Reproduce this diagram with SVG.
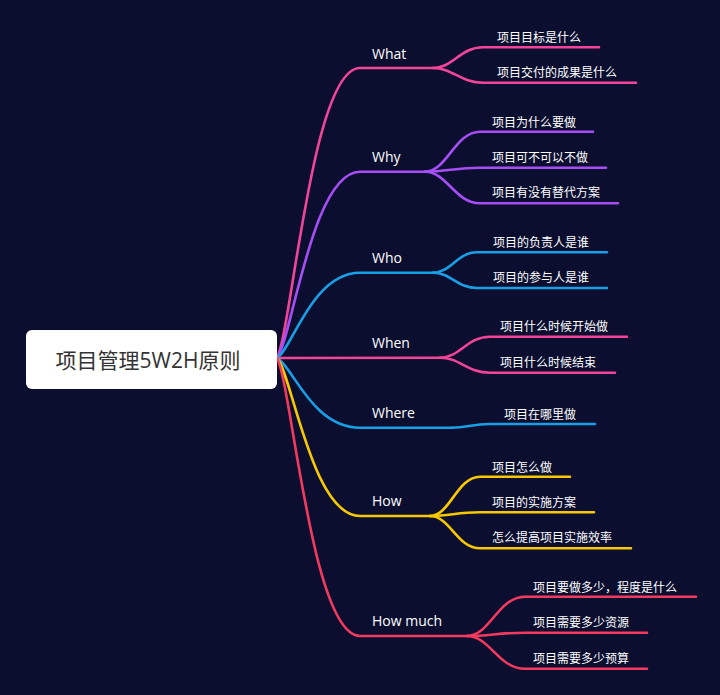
<svg xmlns="http://www.w3.org/2000/svg" width="720" height="695" viewBox="0 0 720 695">
<style>
.bg{fill:#0b0e2f}
.ln{fill:none;stroke-width:2.6;stroke-linecap:round}
.pink{stroke:#f2459a}
.purple{stroke:#a64ef5}
.blue{stroke:#189fe6}
.yellow{stroke:#f8c800}
.red{stroke:#f23a5e}
.br{font-family:"Open Sans","Noto Sans CJK SC",sans-serif;font-size:14px;fill:#ffffff}
.lf{font-family:"Noto Sans CJK SC","Open Sans",sans-serif;font-size:12px;fill:#ffffff}
.rt{font-family:"Open Sans","Noto Sans CJK SC",sans-serif;font-size:21px;fill:#333333}
</style>
<rect class="bg" x="0" y="0" width="720" height="695"/>
<g id="connectors">
  <path class="ln pink" d="M277,358 C292,329 312,68 360,68 L433,68"/>
  <path class="ln purple" d="M277,358 C292,339 312,171.7 360,171.7 L425,171.7"/>
  <path class="ln blue" d="M277,358 C292,349.5 312,272.7 360,272.7 L433,272.7"/>
  <path class="ln pink" d="M277,358 L440,357.7"/>
  <path class="ln blue" d="M277,358 C292,365 312,427.7 360,427.7 L452,427.7"/>
  <path class="ln yellow" d="M277,358 C292,374 312,516 360,516 L430,516"/>
  <path class="ln red" d="M277,358 C292,386 312,636 360,636 L467,636"/>
  <path class="ln pink" d="M433,68 C453,68 460,47.3 483,47.3 L599,47.3"/>
  <path class="ln pink" d="M433,68 C453,68 460,82.7 483,82.7 L636,82.7"/>
  <path class="ln purple" d="M425,171.7 C447,171.7 455,131.7 480,131.7 L593,131.7"/>
  <path class="ln purple" d="M425,171.7 C447,171.7 455,167.7 480,167.7 L606,167.7"/>
  <path class="ln purple" d="M425,171.7 C447,171.7 455,203.3 480,203.3 L618,203.3"/>
  <path class="ln blue" d="M433,272.7 C451,272.7 457,252.3 477,252.3 L607,252.3"/>
  <path class="ln blue" d="M433,272.7 C451,272.7 457,288 477,288 L607,288"/>
  <path class="ln pink" d="M440,357.7 C460,357.7 467,336.7 490,336.7 L627,336.7"/>
  <path class="ln pink" d="M440,357.7 C460,357.7 467,372.7 490,372.7 L615,372.7"/>
  <path class="ln blue" d="M452,427.7 C467,427.7 472,424 490,424 L595,424"/>
  <path class="ln yellow" d="M430,516 C450,516 457,476.7 480,476.7 L570,476.7"/>
  <path class="ln yellow" d="M430,516 C450,516 457,512.3 480,512.3 L594,512.3"/>
  <path class="ln yellow" d="M430,516 C450,516 457,548.3 480,548.3 L631,548.3"/>
  <path class="ln red" d="M467,636 C490,636 498,596.7 525,596.7 L696,596.7"/>
  <path class="ln red" d="M467,636 C490,636 498,632.7 525,632.7 L647,632.7"/>
  <path class="ln red" d="M467,636 C490,636 498,668.7 525,668.7 L647,668.7"/>
</g>
<g id="root">
  <rect x="26" y="330" width="251" height="59" rx="6" fill="#ffffff"/>
  <text class="rt" x="148" y="367.5" text-anchor="middle">项目管理5W2H原则</text>
</g>
<g id="what"><text class="br" x="372" y="59">What</text></g>
<g id="what-1"><text class="lf" x="497" y="41.5">项目目标是什么</text></g>
<g id="what-2"><text class="lf" x="497" y="77">项目交付的成果是什么</text></g>
<g id="why"><text class="br" x="372" y="161.7">Why</text></g>
<g id="why-1"><text class="lf" x="492" y="126.5">项目为什么要做</text></g>
<g id="why-2"><text class="lf" x="492" y="161.5">项目可不可以不做</text></g>
<g id="why-3"><text class="lf" x="492" y="197">项目有没有替代方案</text></g>
<g id="who"><text class="br" x="372" y="263.3">Who</text></g>
<g id="who-1"><text class="lf" x="493" y="246.5">项目的负责人是谁</text></g>
<g id="who-2"><text class="lf" x="493" y="282">项目的参与人是谁</text></g>
<g id="when"><text class="br" x="372" y="348">When</text></g>
<g id="when-1"><text class="lf" x="500" y="331">项目什么时候开始做</text></g>
<g id="when-2"><text class="lf" x="500" y="366.5">项目什么时候结束</text></g>
<g id="where"><text class="br" x="372" y="417.7">Where</text></g>
<g id="where-1"><text class="lf" x="504" y="419">项目在哪里做</text></g>
<g id="how"><text class="br" x="372" y="505.7">How</text></g>
<g id="how-1"><text class="lf" x="492" y="471.5">项目怎么做</text></g>
<g id="how-2"><text class="lf" x="492" y="506.5">项目的实施方案</text></g>
<g id="how-3"><text class="lf" x="492" y="542">怎么提高项目实施效率</text></g>
<g id="howmuch"><text class="br" x="372" y="626">How much</text></g>
<g id="howmuch-1"><text class="lf" x="533" y="591.5">项目要做多少，程度是什么</text></g>
<g id="howmuch-2"><text class="lf" x="533" y="626.5">项目需要多少资源</text></g>
<g id="howmuch-3"><text class="lf" x="533" y="662.5">项目需要多少预算</text></g>
</svg>
